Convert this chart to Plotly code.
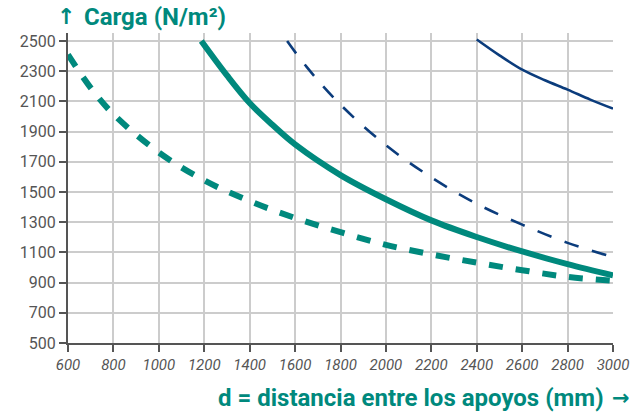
import plotly.graph_objects as go

# distance between supports (mm) and load (N/m2)
d_teal_dash = [600, 700, 800, 1000, 1200, 1400, 1600, 1800, 2000, 2200, 2400, 2600, 2800, 3000]
q_teal_dash = [2410, 2190, 2015, 1762, 1577, 1440, 1328, 1234, 1150, 1087, 1032, 982, 938, 912]

d_teal_solid = [1187, 1300, 1400, 1500, 1600, 1800, 2000, 2200, 2400, 2600, 2800, 3000]
q_teal_solid = [2500, 2272, 2089, 1945, 1815, 1612, 1452, 1312, 1202, 1106, 1022, 948]

d_navy_dash = [1565, 1650, 1800, 2000, 2200, 2400, 2600, 2800, 3000]
q_navy_dash = [2500, 2330, 2078, 1810, 1597, 1422, 1284, 1163, 1069]

d_navy_solid = [2400, 2500, 2600, 2700, 2800, 2900, 3000]
q_navy_solid = [2510, 2405, 2310, 2240, 2178, 2112, 2052]

x_ticks = list(range(600, 3001, 200))
y_ticks = list(range(500, 2501, 200))

TEAL = "#00897d"
NAVY = "#0b3c7c"
GREY = "#555555"

fig = go.Figure()

fig.add_trace(go.Scatter(x=d_teal_dash, y=q_teal_dash, mode="lines", line_shape="spline",
                         line=dict(color=TEAL, width=6, dash="14px,13px")))
fig.add_trace(go.Scatter(x=d_teal_solid, y=q_teal_solid, mode="lines", line_shape="spline",
                         line=dict(color=TEAL, width=6)))
fig.add_trace(go.Scatter(x=d_navy_dash, y=q_navy_dash, mode="lines", line_shape="spline",
                         line=dict(color=NAVY, width=2.6, dash="15px,14px")))
fig.add_trace(go.Scatter(x=d_navy_solid, y=q_navy_solid, mode="lines", line_shape="spline",
                         line=dict(color=NAVY, width=2.6)))

fig.update_layout(
    width=644, height=415,
    margin=dict(l=68, r=31, t=33, b=72),
    paper_bgcolor="white", plot_bgcolor="white",
    showlegend=False,
    font=dict(family="Roboto", color=GREY),
    xaxis=dict(
        range=[600, 3000], tickvals=x_ticks,
        showgrid=True, gridcolor="#cccccc", gridwidth=1.5,
        showline=True, linecolor=GREY, linewidth=2,
        ticks="outside", ticklen=7, tickcolor=GREY, tickwidth=1.5,
        tickfont=dict(family="Roboto", size=15, style="italic", color=GREY),
        zeroline=False,
    ),
    yaxis=dict(
        range=[500, 2553], tickvals=y_ticks,
        showgrid=True, gridcolor="#cccccc", gridwidth=1.5,
        showline=True, linecolor=GREY, linewidth=2,
        ticks="outside", ticklen=7, tickcolor=GREY, tickwidth=1.5,
        tickfont=dict(family="Roboto", size=16, color=GREY),
        zeroline=False,
    ),
)

# axis titles with arrows (arrows in DejaVu so they come out full size)
fig.add_annotation(text="<b>↑</b>", xref="paper", yref="paper", x=-0.024, y=1.052,
                   xanchor="left", yanchor="middle", showarrow=False,
                   font=dict(family="DejaVu Sans", size=22, color=TEAL))
fig.add_annotation(text="<b>Carga (N/m²)</b>", xref="paper", yref="paper", x=0.025, y=1.052,
                   xanchor="left", yanchor="middle", showarrow=False,
                   font=dict(family="Roboto", size=24, color=TEAL))
fig.add_annotation(text="<b>d = distancia entre los apoyos (mm)</b>", xref="paper", yref="paper",
                   x=0.988, y=-0.177, xanchor="right", yanchor="middle", showarrow=False,
                   font=dict(family="Roboto", size=24, color=TEAL))
fig.add_annotation(text="<b>→</b>", xref="paper", yref="paper", x=1.035, y=-0.177,
                   xanchor="right", yanchor="middle", showarrow=False,
                   font=dict(family="DejaVu Sans", size=21, color=TEAL))

# drop the browser's default 8px body margin so the figure sits at the page corner
fig.write_html("out.html", config={"displayModeBar": False},
               post_script="document.body.style.margin='0';")
